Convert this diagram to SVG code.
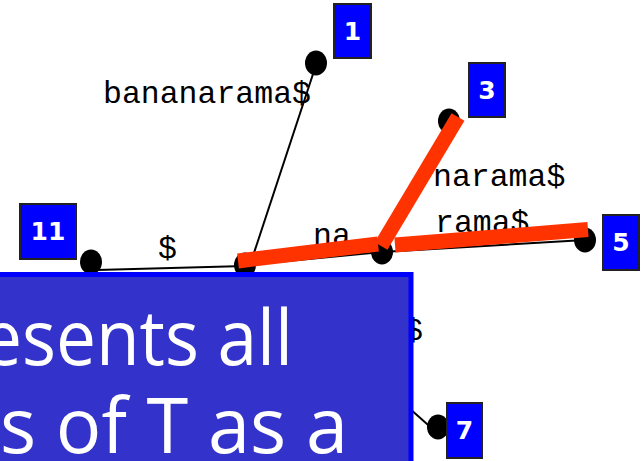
<svg xmlns="http://www.w3.org/2000/svg" width="642" height="461" viewBox="0 0 642 461">
<style>
.box{fill:#0000FF;stroke:#222;stroke-width:2}
.num{font-family:"DejaVu Sans",sans-serif;font-weight:bold;font-size:25px;fill:#fff;text-anchor:middle}
.dot{fill:#000}
.thin{stroke:#000;stroke-width:2;fill:none}
.red{stroke:#FF3300;stroke-width:15;fill:none;stroke-linejoin:miter}
.lbl{font-family:"Liberation Mono","Courier New",monospace;font-size:31.5px;fill:#000}
.big{font-family:"Open Sans","Liberation Sans",sans-serif;font-weight:400;font-size:76px;fill:#fff}
</style>
<rect width="642" height="461" fill="#fff"/>
<g id="labels">
<text class="lbl" x="103" y="103">bananarama$</text>
<text class="lbl" x="158" y="258">$</text>
<text class="lbl" x="313" y="245">na</text>
<text class="lbl" x="433" y="186">narama$</text>
<text class="lbl" x="435" y="232">rama$</text>
<text class="lbl" x="404" y="340">$</text>
</g>
<g id="root"><ellipse class="dot" cx="245" cy="265" rx="11" ry="12.5"/></g>
<g id="node-na"><ellipse class="dot" cx="382" cy="252" rx="11" ry="12.5"/></g>
<g id="node-1"><ellipse class="dot" cx="316" cy="63" rx="11" ry="12.5"/><rect class="box" x="334" y="4" width="37" height="54"/><text class="num" x="352.5" y="40">1</text></g>
<g id="node-3"><ellipse class="dot" cx="449" cy="121" rx="11" ry="12.5"/><rect class="box" x="469" y="63" width="36" height="54"/><text class="num" x="487" y="99">3</text></g>
<g id="node-11"><ellipse class="dot" cx="91" cy="262" rx="11" ry="12.5"/><rect class="box" x="20" y="204" width="56" height="55"/><text class="num" x="48" y="240">11</text></g>
<g id="node-5"><ellipse class="dot" cx="585" cy="240" rx="11" ry="12.5"/><rect class="box" x="603" y="215" width="36" height="55"/><text class="num" x="621" y="251">5</text></g>
<g id="node-7"><ellipse class="dot" cx="438" cy="427" rx="11" ry="12.5"/><rect class="box" x="447" y="403" width="35" height="55"/><text class="num" x="464.5" y="439">7</text></g>
<g id="connectors">
<line class="thin" x1="250" y1="265" x2="315" y2="68"/>
<line class="thin" x1="97" y1="270" x2="245" y2="266"/>
<line class="thin" x1="245" y1="265" x2="382" y2="252"/>
<line class="thin" x1="382" y1="252" x2="449" y2="121"/>
<line class="thin" x1="382" y1="252" x2="585" y2="240"/>
<line class="thin" x1="400" y1="400" x2="436" y2="432"/>
<line class="red" x1="238" y1="261" x2="378" y2="244"/>
<line class="red" x1="381" y1="246" x2="458" y2="117"/>
<line class="red" x1="395" y1="245" x2="588" y2="229.5"/>
</g>
<g id="overlay">
<rect x="-10" y="274.5" width="421" height="200" fill="#3333CC" stroke="#0000FF" stroke-width="5"/>
<text class="big" x="-18" y="365" textLength="311" lengthAdjust="spacingAndGlyphs">esents all</text>
<text class="big" x="0" y="453" textLength="348" lengthAdjust="spacingAndGlyphs">s of T as a</text>
</g>
</svg>
